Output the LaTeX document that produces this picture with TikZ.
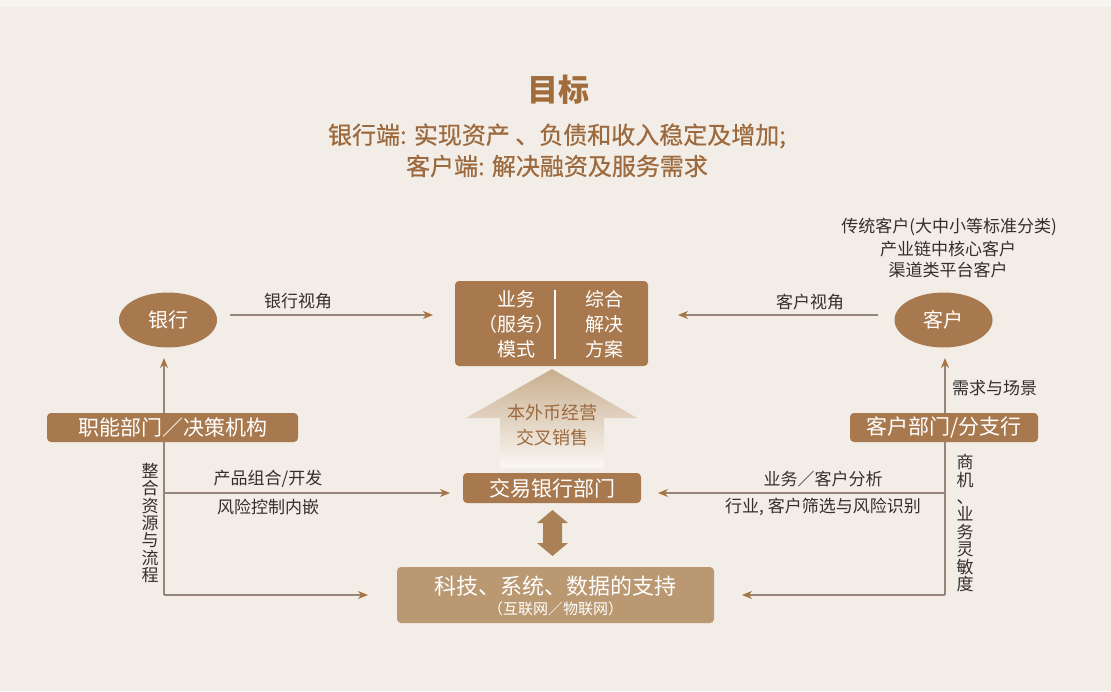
\documentclass[tikz,border=0pt]{standalone}
\usepackage{fontspec}
\setmainfont{Noto Sans CJK SC}
\newfontfamily\subfont[FakeBold=0.6]{Noto Sans CJK SC}
\usetikzlibrary{arrows.meta,shapes.geometric}
\definecolor{bg}{RGB}{242,237,230}
\definecolor{bgtop}{RGB}{248,245,241}
\definecolor{boxc}{RGB}{168,121,78}
\definecolor{lightbox}{RGB}{186,152,114}
\definecolor{titlec}{RGB}{160,108,60}
\definecolor{subc}{RGB}{156,106,62}
\definecolor{linec}{RGB}{150,134,122}
\definecolor{tipc}{RGB}{170,116,66}
\definecolor{txt}{RGB}{52,47,44}
\definecolor{housetop}{RGB}{200,174,142}
\definecolor{housebot}{RGB}{250,247,243}
\definecolor{dblc}{RGB}{170,128,86}
\begin{document}
\begin{tikzpicture}[x=1pt,y=-1pt,
  box/.style={fill=boxc, rounded corners=4pt, text=white, inner sep=0pt, align=center},
  ell/.style={ellipse, fill=boxc, text=white, inner sep=0pt, minimum width=98pt, minimum height=55pt, font=\fontsize{20}{24}\selectfont},
  arr/.style={draw=linec, line width=1.3pt, -{Stealth[length=10pt,width=8pt,inset=3pt,color=tipc]}},
  lbl/.style={text=txt, inner sep=0pt, font=\fontsize{17}{20}\selectfont},
  vlbl/.style={text=txt, inner sep=0pt, align=center, font=\fontsize{17}{17.4}\selectfont},
]
\useasboundingbox (0,0) rectangle (1111,691);
\fill[bg] (0,0) rectangle (1111,691);
\fill[bgtop] (0,0) rectangle (1111,7);

% title
\node[text=titlec, inner sep=0pt, font=\fontsize{31}{36}\selectfont\bfseries] (title) at (558,90) {目标};
\node[text=subc, inner sep=0pt, font=\subfont\fontsize{24}{28}\selectfont] (sub1) at (557,136) {银行端: 实现资产 、负债和收入稳定及增加;};
\node[text=subc, inner sep=0pt, font=\subfont\fontsize{24}{28}\selectfont] (sub2) at (557,166) {客户端: 解决融资及服务需求};

% customer types
\node[text=txt, inner sep=0pt, font=\fontsize{17}{20}\selectfont] (ct1) at (949,227) {传统客户(大中小等标准分类)};
\node[text=txt, inner sep=0pt, font=\fontsize{17}{20}\selectfont] (ct2) at (948,249) {产业链中核心客户};
\node[text=txt, inner sep=0pt, font=\fontsize{17}{20}\selectfont] (ct3) at (948,270) {渠道类平台客户};

% connector coordinates
\coordinate (bvS) at (230,315);
\coordinate (bvE) at (433,315);
\coordinate (cvS) at (878,315);
\coordinate (cvE) at (678,315);
\coordinate (Lb) at (164,595);
\coordinate (Lt) at (164,358);
\coordinate (Lm) at (164,493);
\coordinate (Lme) at (450,493);
\coordinate (Lbe) at (368,595);
\coordinate (Rb) at (945,595);
\coordinate (Rt) at (945,358);
\coordinate (Rm) at (945,493);
\coordinate (Rme) at (658,493);
\coordinate (Rbe) at (742,595);

% connectors
\draw[arr] (bvS) -- (bvE);
\draw[arr] (cvS) -- (cvE);
\draw[arr] (Lb) -- (Lt);
\draw[arr] (Lm) -- (Lme);
\draw[arr] (Lb) -- (Lbe);
\draw[arr] (Rb) -- (Rt);
\draw[arr] (Rm) -- (Rme);
\draw[arr] (Rb) -- (Rbe);

% labels
\node[lbl] (l1) at (298,301) {银行视角};
\node[lbl] (l2) at (810,302) {客户视角};
\node[lbl] (l3) at (268,479) {产品组合/开发};
\node[lbl] (l4) at (268,507) {风险控制内嵌};
\node[lbl] (l5) at (823,479) {业务／客户分析};
\node[lbl] (l6) at (823,507) {行业, 客户筛选与风险识别};
\node[lbl, anchor=west] (l7) at (952,388) {需求与场景};
\node[vlbl] (l8) at (150,523) {整\\合\\资\\源\\与\\流\\程};
\node[vlbl] (l9) at (965,523) {商\\机\\、\\业\\务\\灵\\敏\\度};

% ellipses
\node[ell] (bank) at (168,320) {银行};
\node[ell] (cust) at (943.5,320) {客户};

% top box
\node[box, minimum width=193pt, minimum height=85pt] (topbox) at (551.5,323.5) {};
\node[text=white, inner sep=0pt, align=center, font=\fontsize{19}{25}\selectfont] (tbl) at (516,324) {业务\\（服务）\\模式};
\node[text=white, inner sep=0pt, align=center, font=\fontsize{19}{25}\selectfont] (tbr) at (604,324) {综合\\解决\\方案};
\draw[white, line width=1.2pt] (555,290) -- (555,359);

% house arrow
\shade[top color=housetop, bottom color=housebot] (552,369) -- (637,418) -- (604,418) -- (604,468) -- (500,468) -- (500,418) -- (466,418) -- cycle;
\node[text=subc, inner sep=0pt, align=center, font=\fontsize{18}{25}\selectfont] (house) at (552,425.5) {本外币经营\\交叉销售};

% boxes
\node[box, minimum width=178pt, minimum height=30pt, font=\fontsize{21}{24}\selectfont] (jy) at (552,488) {交易银行部门};
\node[box, minimum width=251pt, minimum height=29pt, font=\fontsize{21}{24}\selectfont] (zn) at (172.5,427.5) {职能部门／决策机构};
\node[box, minimum width=188pt, minimum height=29pt, font=\fontsize{21}{24}\selectfont] (kh) at (944,427.5) {客户部门/分支行};
\node[box, fill=lightbox, minimum width=317pt, minimum height=56pt] (kj) at (555.5,595) {};
\node[text=white, inner sep=0pt, font=\fontsize{22}{26}\selectfont] (kj1) at (555.5,586) {科技、系统、数据的支持};
\node[text=white, inner sep=0pt, font=\fontsize{15}{18}\selectfont] (kj2) at (555.5,609) {（互联网／物联网）};

% double arrow
\fill[dblc] (552.5,510) -- (568,523) -- (562,523) -- (562,543) -- (568,543) -- (552.5,556) -- (537,543) -- (543,543) -- (543,523) -- (537,523) -- cycle;
\end{tikzpicture}
\end{document}
